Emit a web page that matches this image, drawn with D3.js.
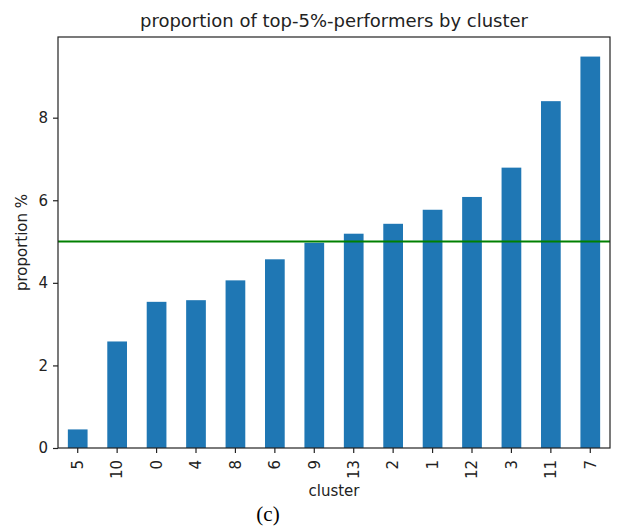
<!DOCTYPE html>
<meta charset="utf-8">
<style>
body { margin: 0; background: #fff; }
text { font-family: "DejaVu Sans", sans-serif; fill: #222; }
.caption { font-family: "Liberation Serif", "DejaVu Serif", serif; }
</style>
<svg width="627" height="531"></svg>
<script src="https://d3js.org/d3.v7.min.js"></script>
<script>
// data
var clusters = ["5", "10", "0", "4", "8", "6", "9", "13", "2", "1", "12", "3", "11", "7"];
var proportions = [0.45, 2.58, 3.54, 3.58, 4.06, 4.57, 4.97, 5.19, 5.43, 5.77, 6.08, 6.79, 8.40, 9.48];
var yTicks = [0, 2, 4, 6, 8];
var reference = 5;

var svg = d3.select("svg");
var m = {left: 58, right: 610, top: 37, bottom: 448};

var x = d3.scaleBand()
    .domain(clusters)
    .range([m.left, m.right])
    .paddingInner(0.5)
    .paddingOuter(0.25);

var y = d3.scaleLinear()
    .domain([0, d3.max(proportions) * 1.05])
    .range([m.bottom, m.top]);

// bars
svg.append("g")
  .selectAll("rect")
  .data(clusters)
  .join("rect")
    .attr("x", d => x(d))
    .attr("y", (d, i) => y(proportions[i]))
    .attr("width", x.bandwidth())
    .attr("height", (d, i) => y(0) - y(proportions[i]))
    .attr("fill", "#1f77b4");

// 5% reference line
svg.append("line")
    .attr("x1", m.left)
    .attr("x2", m.right)
    .attr("y1", y(reference))
    .attr("y2", y(reference))
    .attr("stroke", "#008000")
    .attr("stroke-width", 2);

// frame
svg.append("rect")
    .attr("x", m.left)
    .attr("y", m.top)
    .attr("width", m.right - m.left)
    .attr("height", m.bottom - m.top)
    .attr("fill", "none")
    .attr("stroke", "#222")
    .attr("stroke-width", 1.2);

// y axis
var yAxis = svg.append("g")
    .attr("transform", `translate(${m.left},0)`)
    .call(d3.axisLeft(y).tickValues(yTicks).tickSize(5).tickPadding(5).tickFormat(d3.format("d")));
yAxis.select(".domain").remove();
yAxis.selectAll("line").attr("stroke", "#222").attr("stroke-width", 1.2);
yAxis.selectAll("text").style("font-size", "15px").style("font-family", "DejaVu Sans").attr("fill", "#222");

// x axis
var xAxis = svg.append("g")
    .attr("transform", `translate(0,${m.bottom})`)
    .call(d3.axisBottom(x).tickSize(5).tickPadding(0));
xAxis.select(".domain").remove();
xAxis.selectAll("line").attr("stroke", "#222").attr("stroke-width", 1.2);
xAxis.selectAll("text")
    .style("font-size", "15px")
    .style("font-family", "DejaVu Sans")
    .attr("fill", "#222")
    .attr("text-anchor", "end")
    .attr("dy", "0.35em")
    .attr("transform", "translate(0,12) rotate(-90)")
    .attr("x", 0)
    .attr("y", 0);

// titles
svg.append("text")
    .attr("x", (m.left + m.right) / 2)
    .attr("y", 27)
    .attr("text-anchor", "middle")
    .style("font-size", "18px")
    .text("proportion of top-5%-performers by cluster");

svg.append("text")
    .attr("x", (m.left + m.right) / 2)
    .attr("y", 496)
    .attr("text-anchor", "middle")
    .style("font-size", "15px")
    .text("cluster");

svg.append("text")
    .attr("transform", `translate(27,${(m.top + m.bottom) / 2}) rotate(-90)`)
    .attr("text-anchor", "middle")
    .style("font-size", "15px")
    .text("proportion %");

svg.append("text")
    .attr("class", "caption")
    .attr("x", 268)
    .attr("y", 521)
    .attr("text-anchor", "middle")
    .style("font-size", "21px")
    .style("fill", "#000")
    .text("(c)");
</script>
